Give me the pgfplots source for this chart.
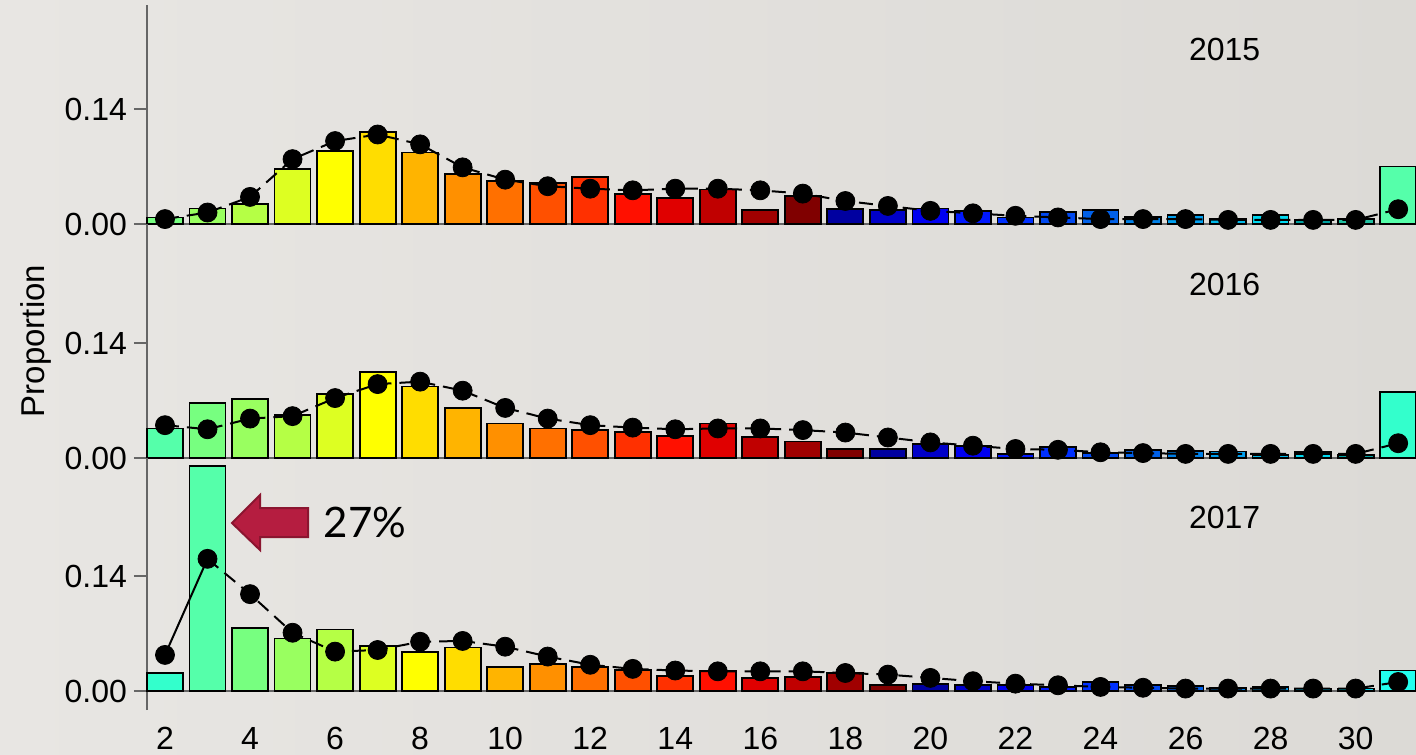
\documentclass[border=0pt]{standalone}
\usepackage{pgfplots}
\pgfplotsset{compat=1.18}
\usepackage{fontspec}
\setmainfont{Liberation Sans}
\newfontfamily\lato{Lato}

\definecolor{bgL}{HTML}{E8E6E3}
\definecolor{bgR}{HTML}{DCDAD6}
\definecolor{axgray}{HTML}{666666}
\definecolor{arrowred}{HTML}{B51D40}
\definecolor{arrowdark}{HTML}{8B1530}
\definecolor{c2}{HTML}{33FFCC}
\definecolor{c3}{HTML}{55FFAA}
\definecolor{c4}{HTML}{77FF80}
\definecolor{c5}{HTML}{99FF60}
\definecolor{c6}{HTML}{B5FF45}
\definecolor{c7}{HTML}{DDFF22}
\definecolor{c8}{HTML}{FFFF00}
\definecolor{c9}{HTML}{FFDD00}
\definecolor{c10}{HTML}{FFB400}
\definecolor{c11}{HTML}{FF9000}
\definecolor{c12}{HTML}{FF7000}
\definecolor{c13}{HTML}{FF5000}
\definecolor{c14}{HTML}{FF3000}
\definecolor{c15}{HTML}{FF1000}
\definecolor{c16}{HTML}{E00000}
\definecolor{c17}{HTML}{C00000}
\definecolor{c18}{HTML}{A00000}
\definecolor{c19}{HTML}{800000}
\definecolor{c20}{HTML}{0000A0}
\definecolor{c21}{HTML}{0000C8}
\definecolor{c22}{HTML}{0000F0}
\definecolor{c23}{HTML}{0018FF}
\definecolor{c24}{HTML}{0030FF}
\definecolor{c25}{HTML}{0048F0}
\definecolor{c26}{HTML}{0060E8}
\definecolor{c27}{HTML}{0080E8}
\definecolor{c28}{HTML}{00A0F0}
\definecolor{c29}{HTML}{00B8E8}
\definecolor{c30}{HTML}{00D8F0}
\definecolor{c31}{HTML}{00A0A0}
\definecolor{c32}{HTML}{20C0A0}
\definecolor{p15}{HTML}{55FFAA}
\definecolor{p16}{HTML}{33FFCC}
\definecolor{p17}{HTML}{22FFEE}

\pgfplotsset{
  panel/.style={
    scale only axis, width=634.5pt,
    xmin=1.577, xmax=31.42, clip=false,
    axis y line=left, axis x line=bottom,
    axis line style={-, draw=axgray, line width=1pt},
    ytick={0,0.14}, yticklabels={0.00,0.14},
    tick align=outside, major tick length=6.5pt,
    ytick style={draw=axgray, line width=1pt},
    tick label style={font=\fontsize{16}{18}\selectfont, text=black},
    xtick=\empty,
  },
  mybar/.style={ybar, bar width=18pt, bar shift=0pt, draw=black, line width=0.9pt, fill=#1},
  dline/.style={black, line width=1pt, dash pattern=on 7pt off 4pt, mark=none},
  dots/.style={only marks, mark=*, mark size=4.75pt, mark options={fill=black, draw=black}},
}
\newcommand{\bb}[3]{\addplot[mybar=#1] coordinates {(#2,#3)};}

\begin{document}
\begin{tikzpicture}
\shade[left color=bgL, right color=bgR] (0pt,0pt) rectangle (708pt,-377pt);

% ---------------- 2015 ----------------
\begin{axis}[panel, at={(73.5pt,-112pt)}, anchor=south west,
  height=109.5pt, ymin=0, ymax=0.2667]
\bb{c4}{2}{0.008}\bb{c5}{3}{0.019}\bb{c6}{4}{0.024}\bb{c7}{5}{0.067}
\bb{c8}{6}{0.089}\bb{c9}{7}{0.112}\bb{c10}{8}{0.087}\bb{c11}{9}{0.061}
\bb{c12}{10}{0.052}\bb{c13}{11}{0.050}\bb{c14}{12}{0.057}\bb{c15}{13}{0.037}
\bb{c16}{14}{0.032}\bb{c17}{15}{0.042}\bb{c18}{16}{0.017}\bb{c19}{17}{0.034}
\bb{c20}{18}{0.018}\bb{c21}{19}{0.017}\bb{c22}{20}{0.019}\bb{c23}{21}{0.016}
\bb{c24}{22}{0.008}\bb{c25}{23}{0.015}\bb{c26}{24}{0.017}\bb{c27}{25}{0.009}
\bb{c28}{26}{0.011}\bb{c29}{27}{0.006}\bb{c30}{28}{0.011}\bb{c31}{29}{0.005}
\bb{c32}{30}{0.006}\bb{p15}{31}{0.070}
\addplot[dline] coordinates {(2,0.006)(3,0.014)(4,0.033)(5,0.079)(6,0.101)(7,0.109)(8,0.097)(9,0.069)(10,0.054)(11,0.046)(12,0.043)(13,0.041)(14,0.043)(15,0.043)(16,0.041)(17,0.037)(18,0.028)(19,0.022)(20,0.016)(21,0.013)(22,0.010)(23,0.008)(24,0.006)(25,0.006)(26,0.006)(27,0.005)(28,0.005)(29,0.005)(30,0.005)(31,0.018)};
\addplot[dots] coordinates {(2,0.006)(3,0.014)(4,0.033)(5,0.079)(6,0.101)(7,0.109)(8,0.097)(9,0.069)(10,0.054)(11,0.046)(12,0.043)(13,0.041)(14,0.043)(15,0.043)(16,0.041)(17,0.037)(18,0.028)(19,0.022)(20,0.016)(21,0.013)(22,0.010)(23,0.008)(24,0.006)(25,0.006)(26,0.006)(27,0.005)(28,0.005)(29,0.005)(30,0.005)(31,0.018)};
\node[font=\fontsize{16}{18}\selectfont] at (axis cs:26.92,0.212) {2015};
\end{axis}

% ---------------- 2016 ----------------
\begin{axis}[panel, at={(73.5pt,-229pt)}, anchor=south west,
  height=117pt, ymin=0, ymax=0.285]
\bb{c3}{2}{0.036}\bb{c4}{3}{0.067}\bb{c5}{4}{0.072}\bb{c6}{5}{0.052}
\bb{c7}{6}{0.078}\bb{c8}{7}{0.105}\bb{c9}{8}{0.087}\bb{c10}{9}{0.061}
\bb{c11}{10}{0.042}\bb{c12}{11}{0.036}\bb{c13}{12}{0.034}\bb{c14}{13}{0.032}
\bb{c15}{14}{0.027}\bb{c16}{15}{0.042}\bb{c17}{16}{0.026}\bb{c18}{17}{0.020}
\bb{c19}{18}{0.011}\bb{c20}{19}{0.011}\bb{c21}{20}{0.017}\bb{c22}{21}{0.015}
\bb{c23}{22}{0.005}\bb{c24}{23}{0.013}\bb{c25}{24}{0.006}\bb{c26}{25}{0.010}
\bb{c27}{26}{0.009}\bb{c28}{27}{0.008}\bb{c29}{28}{0.004}\bb{c30}{29}{0.007}
\bb{c31}{30}{0.004}\bb{p16}{31}{0.080}
\addplot[dline] coordinates {(2,0.040)(3,0.035)(4,0.048)(5,0.051)(6,0.073)(7,0.090)(8,0.093)(9,0.082)(10,0.061)(11,0.048)(12,0.040)(13,0.037)(14,0.035)(15,0.036)(16,0.036)(17,0.034)(18,0.031)(19,0.025)(20,0.019)(21,0.015)(22,0.011)(23,0.010)(24,0.007)(25,0.006)(26,0.005)(27,0.005)(28,0.005)(29,0.005)(30,0.005)(31,0.018)};
\addplot[dots] coordinates {(2,0.040)(3,0.035)(4,0.048)(5,0.051)(6,0.073)(7,0.090)(8,0.093)(9,0.082)(10,0.061)(11,0.048)(12,0.040)(13,0.037)(14,0.035)(15,0.036)(16,0.036)(17,0.034)(18,0.031)(19,0.025)(20,0.019)(21,0.015)(22,0.011)(23,0.010)(24,0.007)(25,0.006)(26,0.005)(27,0.005)(28,0.005)(29,0.005)(30,0.005)(31,0.018)};
\node[font=\fontsize{16}{18}\selectfont] at (axis cs:26.92,0.211) {2016};
\end{axis}

% ---------------- 2017 ----------------
\begin{axis}[panel, at={(73.5pt,-355pt)}, anchor=south west,
  height=126pt, ymin=-0.0231, ymax=0.2838,
  x axis line style={draw=none},
  xtick={2,4,...,30},
  xticklabels={2,4,6,8,10,12,14,16,18,20,22,24,26,28,30},
  major x tick style={draw=none},
  xticklabel style={yshift=1.5pt}]
\draw[axgray, line width=1pt] (axis cs:1.577,0) -- (axis cs:31.42,0);
\bb{c2}{2}{0.022}\bb{c3}{3}{0.274}\bb{c4}{4}{0.077}\bb{c5}{5}{0.064}
\bb{c6}{6}{0.075}\bb{c7}{7}{0.055}\bb{c8}{8}{0.048}\bb{c9}{9}{0.053}
\bb{c10}{10}{0.029}\bb{c11}{11}{0.033}\bb{c12}{12}{0.029}\bb{c13}{13}{0.026}
\bb{c14}{14}{0.018}\bb{c15}{15}{0.025}\bb{c16}{16}{0.016}\bb{c17}{17}{0.017}
\bb{c18}{18}{0.022}\bb{c19}{19}{0.007}\bb{c20}{20}{0.009}\bb{c21}{21}{0.007}
\bb{c22}{22}{0.007}\bb{c23}{23}{0.005}\bb{c24}{24}{0.011}\bb{c25}{25}{0.007}
\bb{c26}{26}{0.006}\bb{c27}{27}{0.004}\bb{c28}{28}{0.005}\bb{c29}{29}{0.003}
\bb{c30}{30}{0.003}\bb{p17}{31}{0.025}
\addplot[black, line width=1pt, mark=none] coordinates {(2,0.044)(3,0.161)};
\addplot[dline] coordinates {(3,0.161)(4,0.118)(5,0.071)(6,0.048)(7,0.050)(8,0.060)(9,0.061)(10,0.054)(11,0.042)(12,0.032)(13,0.027)(14,0.025)(15,0.024)(16,0.024)(17,0.024)(18,0.022)(19,0.020)(20,0.016)(21,0.012)(22,0.009)(23,0.007)(24,0.005)(25,0.004)(26,0.003)(27,0.003)(28,0.003)(29,0.003)(30,0.003)(31,0.011)};
\addplot[dots] coordinates {(2,0.044)(3,0.161)(4,0.118)(5,0.071)(6,0.048)(7,0.050)(8,0.060)(9,0.061)(10,0.054)(11,0.042)(12,0.032)(13,0.027)(14,0.025)(15,0.024)(16,0.024)(17,0.024)(18,0.022)(19,0.020)(20,0.016)(21,0.012)(22,0.009)(23,0.007)(24,0.005)(25,0.004)(26,0.003)(27,0.003)(28,0.003)(29,0.003)(30,0.003)(31,0.011)};
\node[font=\fontsize{16}{18}\selectfont] at (axis cs:26.92,0.211) {2017};
\end{axis}

\node[rotate=90, font=\fontsize{16.5}{18}\selectfont] at (18pt,-170.5pt) {Proportion};

\filldraw[fill=arrowred, draw=arrowdark, line width=1pt, line join=miter]
  (116pt,-261.5pt) -- (130pt,-247.5pt) -- (130pt,-254pt) -- (154pt,-254pt)
  -- (154pt,-268.5pt) -- (130pt,-268.5pt) -- (130pt,-275pt) -- cycle;
\node[font=\lato\fontsize{21}{24}\selectfont] at (182.5pt,-261pt) {27\%};

\pgfresetboundingbox
\useasboundingbox (0pt,0pt) rectangle (708pt,-377pt);
\end{tikzpicture}
\end{document}
